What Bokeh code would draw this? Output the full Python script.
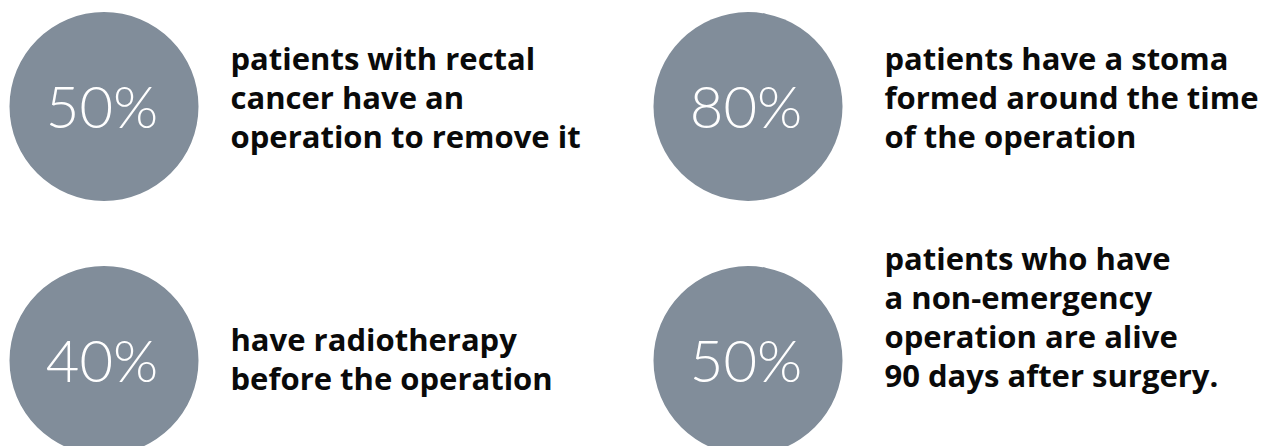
from bokeh.plotting import figure
from bokeh.models import Range1d
from bokeh.core.properties import value
from bokeh.embed import file_html
from bokeh.resources import INLINE

# ---- data ----
percentages = ["50%", "80%", "40%", "50%"]
descriptions = [
    ["patients with rectal", "cancer have an", "operation to remove it"],
    ["patients have a stoma", "formed around the time", "of the operation"],
    ["have radiotherapy", "before the operation"],
    ["patients who have", "a non-emergency", "operation are alive", "90 days after surgery."],
]

# ---- layout (pixel units; y grows downward) ----
W, H = 1266, 446
col_cx = [103.5, 747.5]
row_cy = [106, 360]
col_tx = [230, 884]
block_mid = [4, 4, 11, -30.5]   # middle baseline offset from circle centre
radius = 94.5
line_gap = 39
circle_color = "#818d9a"
pct_size = 58
txt_size = 31
base_shift = 0.42  # renderer places alphabetic baseline ~0.42em below y

p = figure(width=W, height=H, output_backend="svg", toolbar_location=None,
           x_range=Range1d(0, W), y_range=Range1d(H, 0), min_border=0)
p.axis.visible = False
p.grid.visible = False
p.outline_line_color = None
p.background_fill_color = "white"
p.border_fill_color = "white"

cxs, cys, txs = [], [], []
for i in range(len(percentages)):
    cxs.append(col_cx[i % 2])
    txs.append(col_tx[i % 2])
    cys.append(row_cy[i // 2])

p.circle(x=cxs, y=cys, radius=radius, fill_color=circle_color, line_color=None)

p.text(x=[c - 2 for c in cxs], y=[c + 23 - base_shift * pct_size for c in cys],
       text=percentages, text_color="white", text_font=value("Lato Light"),
       text_font_size=f"{pct_size}px", text_align="center", text_baseline="alphabetic")

lx, ly, lt = [], [], []
for i, lines in enumerate(descriptions):
    n = len(lines)
    for j, line in enumerate(lines):
        lx.append(txs[i])
        ly.append(cys[i] + block_mid[i] + (j - (n - 1) / 2) * line_gap - base_shift * txt_size)
        lt.append(line)

p.text(x=lx, y=ly, text=lt, text_color="#0a0a0a", text_font=value("Open Sans"),
       text_font_style="bold", text_font_size=f"{txt_size}px", text_align="left",
       text_baseline="alphabetic")

open("out.html", "w").write(file_html(p, INLINE))
